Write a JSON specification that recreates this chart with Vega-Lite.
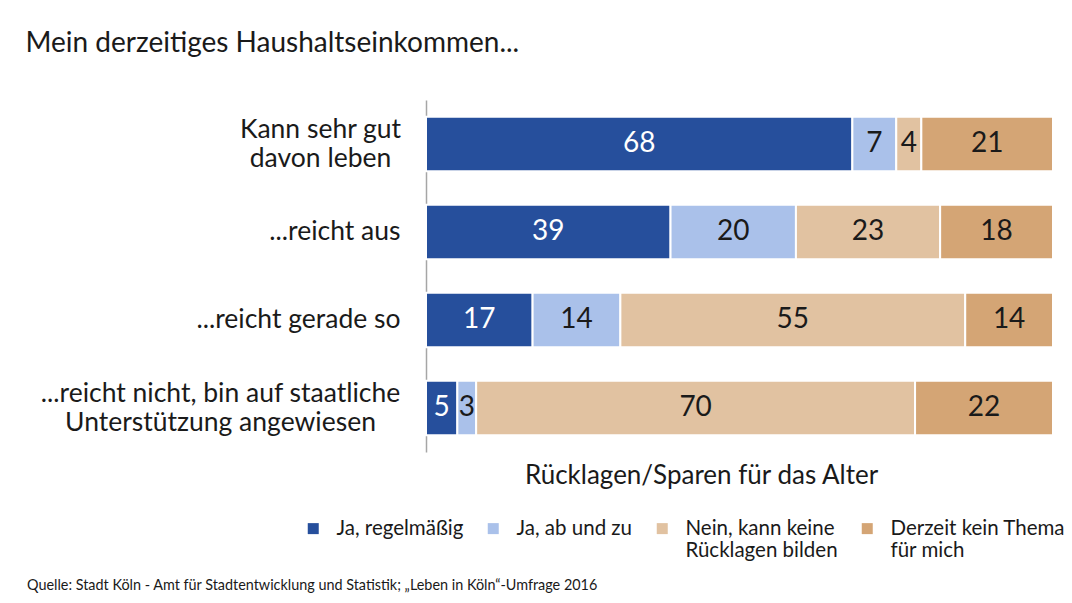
{
  "$schema": "https://vega.github.io/schema/vega-lite/v6.json",
  "width": 627,
  "height": 352,
  "autosize": {"type": "none"},
  "padding": {"left": 426, "top": 100, "right": 19, "bottom": 151},
  "background": "white",
  "config": {"view": {"stroke": null}},
  "title": {
    "text": "Quelle: Stadt Köln - Amt für Stadtentwicklung und Statistik; „Leben in Köln“-Umfrage 2016",
    "orient": "bottom",
    "anchor": "start",
    "frame": "group",
    "dx": -399,
    "offset": 17,
    "font": "Lato",
    "fontSize": 14.4,
    "fontWeight": "normal",
    "color": "#1a1a1a"
  },
  "data": {
    "values": [
      {"g": "Kann sehr gut|davon leben", "c": "Ja, regelmäßig", "k": 1, "v": 68},
      {"g": "Kann sehr gut|davon leben", "c": "Ja, ab und zu", "k": 2, "v": 7},
      {"g": "Kann sehr gut|davon leben", "c": "Nein, kann keine|Rücklagen bilden", "k": 3, "v": 4},
      {"g": "Kann sehr gut|davon leben", "c": "Derzeit kein Thema|für mich", "k": 4, "v": 21},
      {"g": "...reicht aus", "c": "Ja, regelmäßig", "k": 1, "v": 39},
      {"g": "...reicht aus", "c": "Ja, ab und zu", "k": 2, "v": 20},
      {"g": "...reicht aus", "c": "Nein, kann keine|Rücklagen bilden", "k": 3, "v": 23},
      {"g": "...reicht aus", "c": "Derzeit kein Thema|für mich", "k": 4, "v": 18},
      {"g": "...reicht gerade so", "c": "Ja, regelmäßig", "k": 1, "v": 17},
      {"g": "...reicht gerade so", "c": "Ja, ab und zu", "k": 2, "v": 14},
      {"g": "...reicht gerade so", "c": "Nein, kann keine|Rücklagen bilden", "k": 3, "v": 55},
      {"g": "...reicht gerade so", "c": "Derzeit kein Thema|für mich", "k": 4, "v": 14},
      {"g": "...reicht nicht, bin auf staatliche|Unterstützung angewiesen", "c": "Ja, regelmäßig", "k": 1, "v": 5},
      {"g": "...reicht nicht, bin auf staatliche|Unterstützung angewiesen", "c": "Ja, ab und zu", "k": 2, "v": 3},
      {"g": "...reicht nicht, bin auf staatliche|Unterstützung angewiesen", "c": "Nein, kann keine|Rücklagen bilden", "k": 3, "v": 70},
      {"g": "...reicht nicht, bin auf staatliche|Unterstützung angewiesen", "c": "Derzeit kein Thema|für mich", "k": 4, "v": 22}
    ]
  },
  "transform": [
    {"stack": "v", "groupby": ["g"], "sort": [{"field": "k", "order": "ascending"}], "as": ["x0", "x1"]}
  ],
  "encoding": {
    "y": {
      "field": "g",
      "type": "nominal",
      "sort": null,
      "scale": {"paddingInner": 0.38, "paddingOuter": 0.19},
      "axis": {
        "ticks": false,
        "grid": false,
        "domainColor": "#a6a6a6",
        "domainWidth": 1.5,
        "labelFont": "Lato",
        "labelFontSize": 26.5,
        "labelColor": "#1a1a1a",
        "labelLineHeight": 29,
        "labelBaseline": "middle",
        "labelLimit": 500,
        "labelExpr": "split(datum.label, '|')",
        "labelAlign": {"expr": "indexof(datum.value, '|') >= 0 ? 'center' : 'right'"},
        "labelOffset": {"expr": "indexof(datum.value, '|') >= 0 ? -14.5 : 0"},
        "labelPadding": {"expr": "datum.value == 'Kann sehr gut|davon leben' ? 106 : (indexof(datum.value, '|') >= 0 ? 206 : 26)"},
        "title": "Mein derzeitiges Haushaltseinkommen...",
        "titleAngle": 0,
        "titleX": -401,
        "titleY": -49,
        "titleAlign": "left",
        "titleBaseline": "alphabetic",
        "titleFont": "Lato",
        "titleFontSize": 28,
        "titleFontWeight": "normal",
        "titleColor": "#1a1a1a"
      }
    }
  },
  "layer": [
    {
      "mark": {"type": "bar", "stroke": "white", "strokeWidth": 2},
      "encoding": {
        "x": {
          "field": "x0",
          "type": "quantitative",
          "scale": {"domain": [0, 100]},
          "axis": {
            "labels": false,
            "ticks": false,
            "domain": false,
            "grid": false,
            "title": "Rücklagen/Sparen für das Alter",
            "titleX": 275,
            "titleY": 31,
            "titleAlign": "center",
            "titleBaseline": "alphabetic",
            "titleFont": "Lato",
            "titleFontSize": 26,
            "titleFontWeight": "normal",
            "titleColor": "#1a1a1a"
          }
        },
        "x2": {"field": "x1"},
        "color": {
          "field": "c",
          "type": "nominal",
          "scale": {
            "domain": ["Ja, regelmäßig", "Ja, ab und zu", "Nein, kann keine|Rücklagen bilden", "Derzeit kein Thema|für mich"],
            "range": ["#264F9C", "#AAC1EA", "#E1C2A1", "#D4A575"]
          },
          "legend": {
            "title": null,
            "orient": "none",
            "legendX": -123,
            "legendY": 418,
            "direction": "horizontal",
            "symbolType": "square",
            "symbolSize": 121,
            "symbolStrokeWidth": 0,
            "labelFont": "Lato",
            "labelFontSize": 20.5,
            "labelColor": "#1a1a1a",
            "labelLineHeight": 25,
            "labelBaseline": "middle",
            "labelOffset": 13,
            "labelLimit": 300,
            "labelExpr": "[split(datum.label, '|')[0], split(datum.label, '|')[1] || '']",
            "columnPadding": 19
          }
        }
      }
    },
    {
      "transform": [
        {"fold": ["x0", "x1"], "as": ["edge", "pos"]}
      ],
      "mark": {"type": "text", "font": "Lato", "fontSize": 28, "baseline": "middle", "align": "center"},
      "encoding": {
        "x": {"aggregate": "mean", "field": "pos", "type": "quantitative"},
        "detail": [{"field": "c", "type": "nominal"}, {"field": "k", "type": "quantitative"}],
        "text": {"field": "v", "type": "quantitative"},
        "color": {"condition": {"test": "datum.k == 1", "value": "white"}, "value": "#1a1a1a"}
      }
    }
  ]
}
